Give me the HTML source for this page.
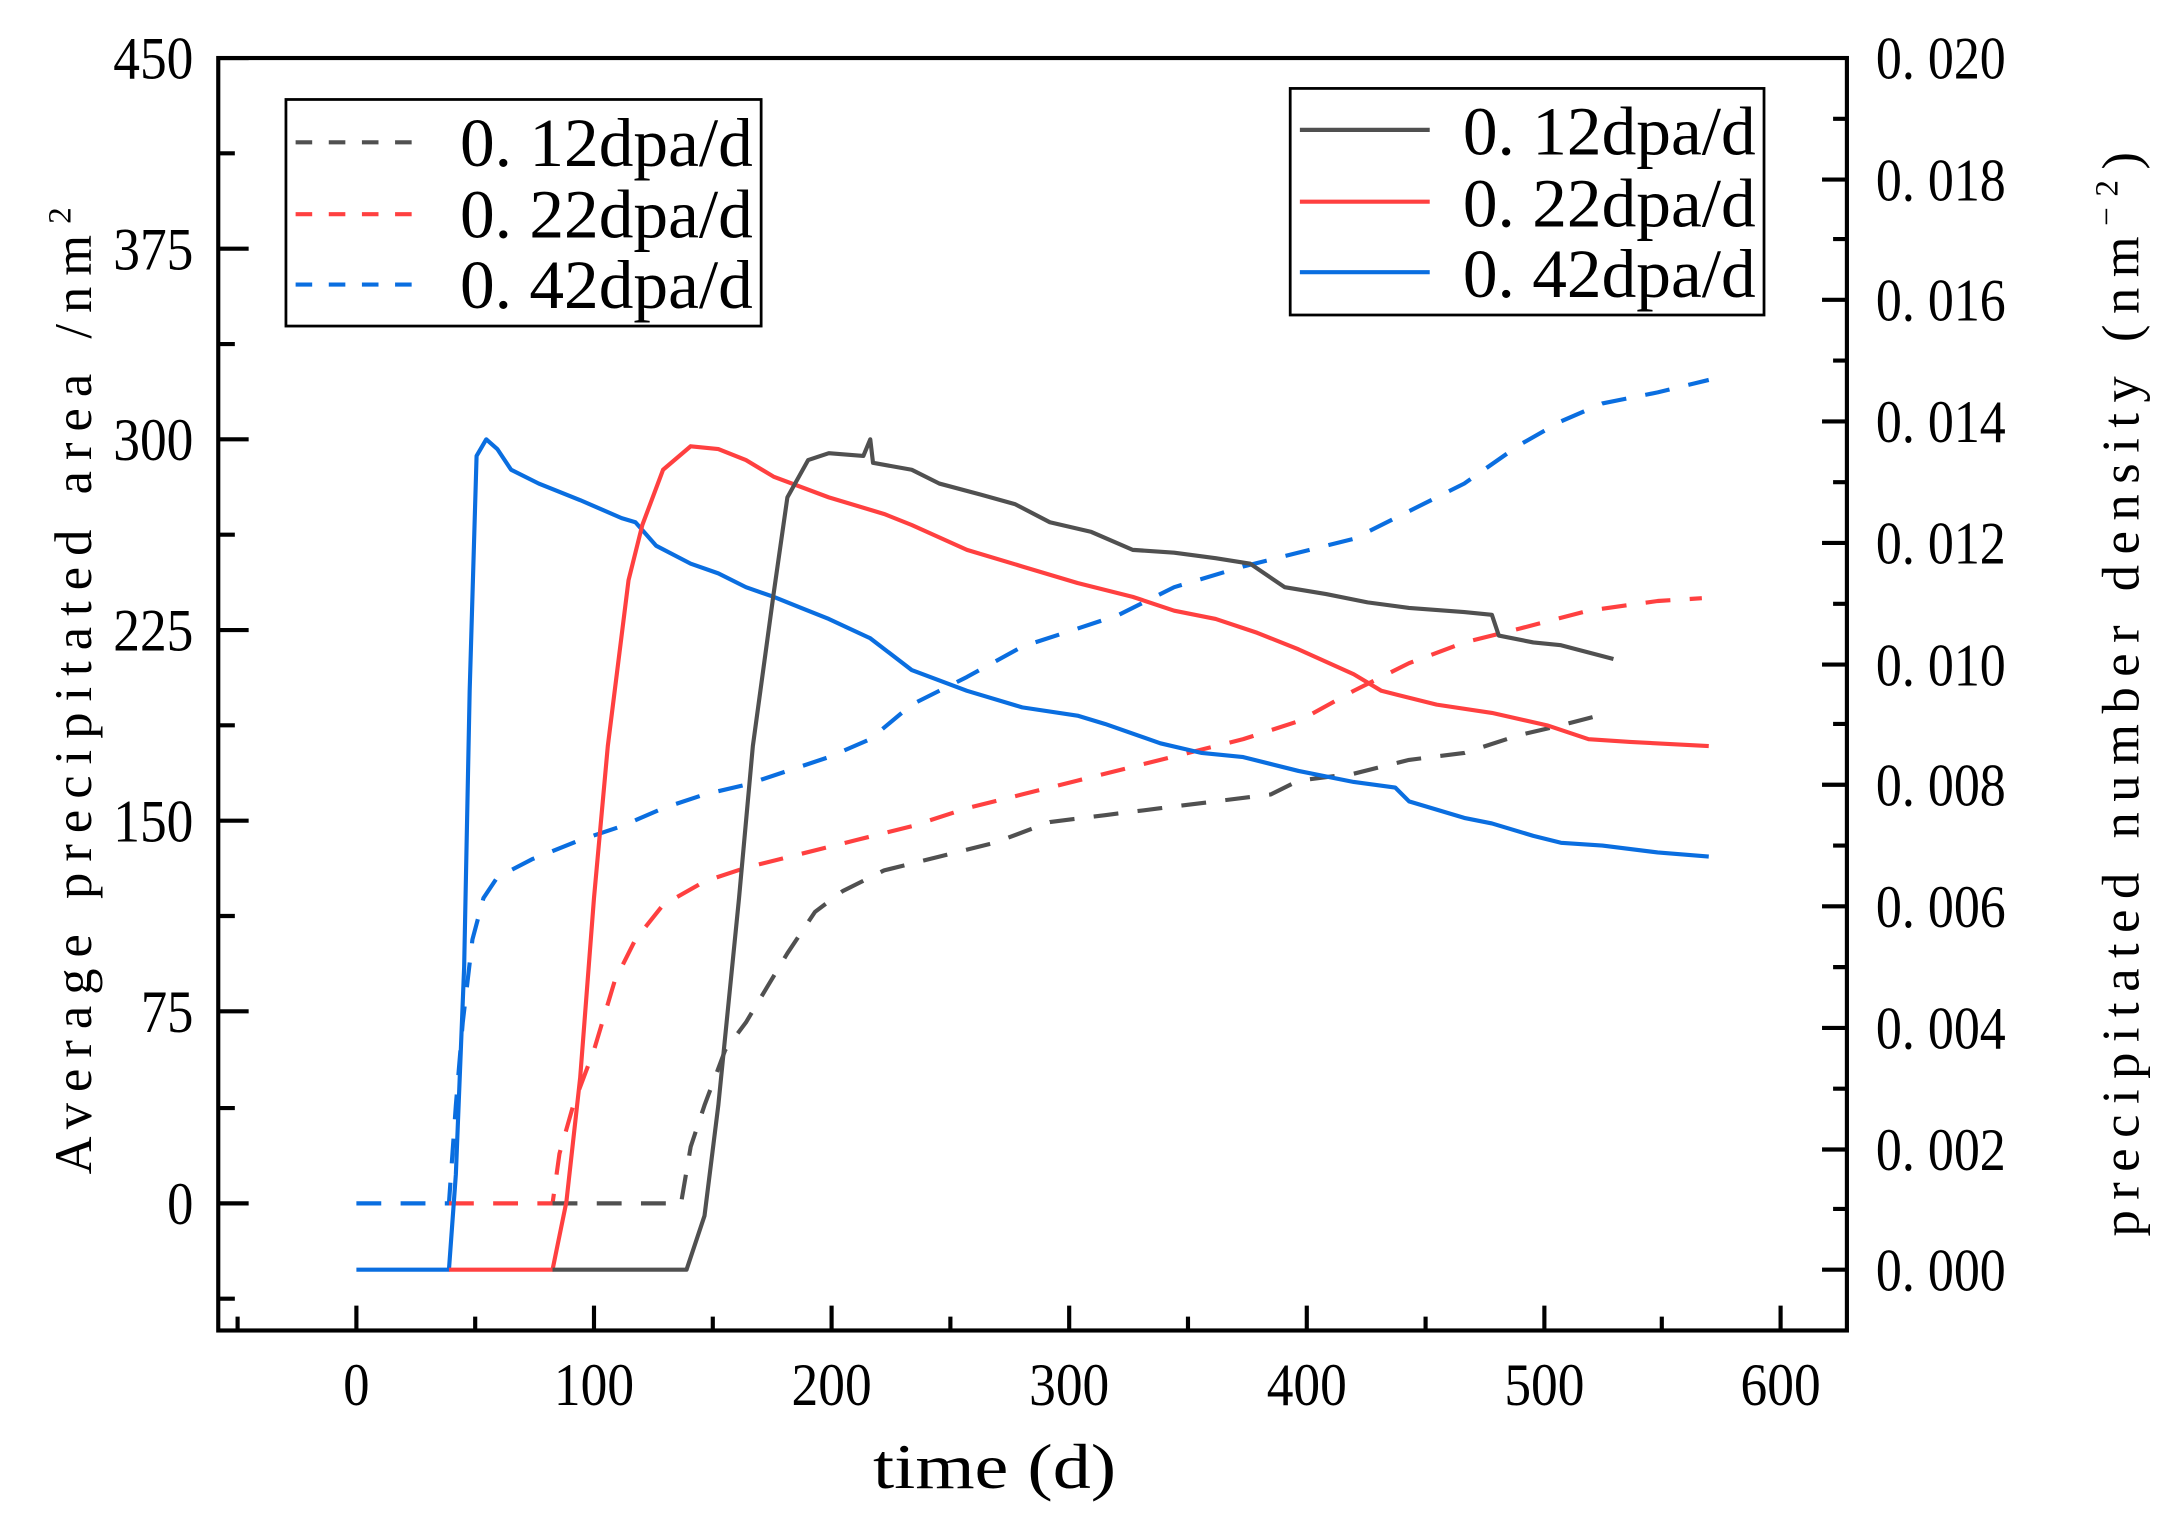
<!DOCTYPE html>
<html><head><meta charset="utf-8"><style>html,body{margin:0;padding:0;background:#fff}svg{display:block}</style></head>
<body>
<svg width="2166" height="1517" viewBox="0 0 1568 1098" preserveAspectRatio="none" xmlns="http://www.w3.org/2000/svg" font-family="Liberation Serif, serif">
<rect width="1568" height="1098" fill="#fff"/>
<g fill="none" stroke-linejoin="round" stroke-width="3">
<g stroke-dasharray="18 14">
<polyline stroke="#0a6ee0" points="258,871 325,871 330,800 335,740 342,680 350,650 360,635 385,622 420,608 450,598 480,585 510,575 540,568 570,558 600,548 630,535 660,510 700,490 740,468 780,455 810,445 850,425 900,410 940,400 980,390 1020,370 1060,350 1100,322 1130,305 1160,292 1200,284 1237,275"/>
<polyline stroke="#ff4040" points="325,871 400,871 405,835 415,800 430,760 445,710 460,680 480,655 510,638 540,628 580,618 620,608 660,598 700,585 740,575 780,565 820,555 860,545 900,535 940,522 980,500 1020,480 1060,465 1100,455 1150,442 1200,435 1232,433"/>
<polyline stroke="#505050" points="400,871 493,871 500,830 510,800 525,760 540,740 555,715 570,690 590,660 610,645 640,630 680,620 720,610 760,595 800,590 840,585 880,580 920,575 940,565 980,560 1020,550 1060,545 1100,532 1130,525 1157,518"/>
</g>
<polyline stroke="#0a6ee0" points="258,919 325,919 330,850 336,700 340,500 345,330 352,318 360,325 370,340 390,350 420,362 450,375 460,378 475,395 500,408 520,415 540,425 560,432 580,440 600,448 630,462 660,485 700,500 740,512 780,518 800,524 840,538 870,545 900,548 940,558 980,566 1010,570 1020,580 1060,592 1080,596 1110,605 1130,610 1160,612 1200,617 1237,620"/>
<polyline stroke="#ff4040" points="325,919 400,919 410,870 420,780 430,650 440,540 455,420 465,380 480,340 500,323 520,325 540,333 560,345 600,360 640,372 660,380 700,398 740,410 780,422 820,432 850,442 880,448 910,458 940,470 980,488 1000,500 1040,510 1080,516 1120,525 1150,535 1180,537 1237,540"/>
<polyline stroke="#505050" points="400,919 497,919 510,880 520,800 535,650 545,540 560,430 570,360 585,333 600,328 625,330 630,318 632,335 660,340 680,350 710,358 735,365 760,378 790,385 820,398 850,400 880,404 905,408 930,425 960,430 990,436 1020,440 1060,443 1080,445 1085,460 1110,465 1130,467 1168,477"/>
</g>
<rect x="158" y="42" width="1179" height="921" fill="none" stroke="#000" stroke-width="3"/>
<g stroke="#000" stroke-width="3">
<path d="M158 42h22M158 180h22M158 318h22M158 456h22M158 594h22M158 732h22M158 871h22"/>
<path d="M158 111h12M158 249h12M158 387h12M158 525h12M158 663h12M158 802h12M158 940h12"/>
<path d="M1337 919h-18M1337 832h-18M1337 744h-18M1337 656h-18M1337 568h-18M1337 481h-18M1337 393h-18M1337 305h-18M1337 217h-18M1337 130h-18"/>
<path d="M1337 875h-10M1337 788h-10M1337 700h-10M1337 612h-10M1337 524h-10M1337 437h-10M1337 349h-10M1337 261h-10M1337 173h-10M1337 86h-10"/>
<path d="M258 963v-18M430 963v-18M602 963v-18M774 963v-18M946 963v-18M1118 963v-18M1289 963v-18"/>
<path d="M172 963v-10M344 963v-10M516 963v-10M688 963v-10M860 963v-10M1032 963v-10M1203 963v-10"/>
</g>
<g font-size="44" fill="#000">
<g text-anchor="end">
<text x="140" y="57" textLength="58" lengthAdjust="spacingAndGlyphs">450</text>
<text x="140" y="195" textLength="58" lengthAdjust="spacingAndGlyphs">375</text>
<text x="140" y="333" textLength="58" lengthAdjust="spacingAndGlyphs">300</text>
<text x="140" y="471" textLength="58" lengthAdjust="spacingAndGlyphs">225</text>
<text x="140" y="609" textLength="58" lengthAdjust="spacingAndGlyphs">150</text>
<text x="140" y="747" textLength="38" lengthAdjust="spacingAndGlyphs">75</text>
<text x="140" y="886" textLength="19" lengthAdjust="spacingAndGlyphs">0</text>
</g>
<g>
<text x="1358" y="57" textLength="94" lengthAdjust="spacingAndGlyphs">0. 020</text>
<text x="1358" y="145" textLength="94" lengthAdjust="spacingAndGlyphs">0. 018</text>
<text x="1358" y="232" textLength="94" lengthAdjust="spacingAndGlyphs">0. 016</text>
<text x="1358" y="320" textLength="94" lengthAdjust="spacingAndGlyphs">0. 014</text>
<text x="1358" y="408" textLength="94" lengthAdjust="spacingAndGlyphs">0. 012</text>
<text x="1358" y="496" textLength="94" lengthAdjust="spacingAndGlyphs">0. 010</text>
<text x="1358" y="583" textLength="94" lengthAdjust="spacingAndGlyphs">0. 008</text>
<text x="1358" y="671" textLength="94" lengthAdjust="spacingAndGlyphs">0. 006</text>
<text x="1358" y="759" textLength="94" lengthAdjust="spacingAndGlyphs">0. 004</text>
<text x="1358" y="847" textLength="94" lengthAdjust="spacingAndGlyphs">0. 002</text>
<text x="1358" y="934" textLength="94" lengthAdjust="spacingAndGlyphs">0. 000</text>
</g>
<g text-anchor="middle">
<text x="258" y="1017" textLength="19" lengthAdjust="spacingAndGlyphs">0</text>
<text x="430" y="1017" textLength="58" lengthAdjust="spacingAndGlyphs">100</text>
<text x="602" y="1017" textLength="58" lengthAdjust="spacingAndGlyphs">200</text>
<text x="774" y="1017" textLength="58" lengthAdjust="spacingAndGlyphs">300</text>
<text x="946" y="1017" textLength="58" lengthAdjust="spacingAndGlyphs">400</text>
<text x="1118" y="1017" textLength="58" lengthAdjust="spacingAndGlyphs">500</text>
<text x="1289" y="1017" textLength="58" lengthAdjust="spacingAndGlyphs">600</text>
</g>
<text x="632" y="1077" font-size="46" textLength="176" lengthAdjust="spacingAndGlyphs">time (d)</text>
<text transform="translate(66,850) rotate(-90)" font-size="38" textLength="700" lengthAdjust="spacing">Average  precipitated  area  /nm<tspan font-size="24" dy="-15">2</tspan></text>
<text transform="translate(1548,895) rotate(-90)" font-size="38" textLength="785" lengthAdjust="spacing">precipitated  number  density  (nm<tspan font-size="24" dy="-15">−2</tspan><tspan dy="15">)</tspan></text>
</g>
<rect x="207" y="72" width="344" height="164" fill="#fff" stroke="#000" stroke-width="2"/>
<g stroke-width="3" stroke-dasharray="12 12">
<path d="M214 103h90" stroke="#505050"/>
<path d="M214 155h90" stroke="#ff4040"/>
<path d="M214 206h90" stroke="#0a6ee0"/>
</g>
<g font-size="50" fill="#000">
<text x="333" y="120" textLength="212" lengthAdjust="spacingAndGlyphs">0. 12dpa/d</text>
<text x="333" y="172" textLength="212" lengthAdjust="spacingAndGlyphs">0. 22dpa/d</text>
<text x="333" y="223" textLength="212" lengthAdjust="spacingAndGlyphs">0. 42dpa/d</text>
</g>
<rect x="934" y="64" width="343" height="164" fill="#fff" stroke="#000" stroke-width="2"/>
<g stroke-width="3">
<path d="M941 94h94" stroke="#505050"/>
<path d="M941 146h94" stroke="#ff4040"/>
<path d="M941 197h94" stroke="#0a6ee0"/>
</g>
<g font-size="50" fill="#000">
<text x="1059" y="112" textLength="212" lengthAdjust="spacingAndGlyphs">0. 12dpa/d</text>
<text x="1059" y="164" textLength="212" lengthAdjust="spacingAndGlyphs">0. 22dpa/d</text>
<text x="1059" y="215" textLength="212" lengthAdjust="spacingAndGlyphs">0. 42dpa/d</text>
</g>
</svg>
</body></html>
